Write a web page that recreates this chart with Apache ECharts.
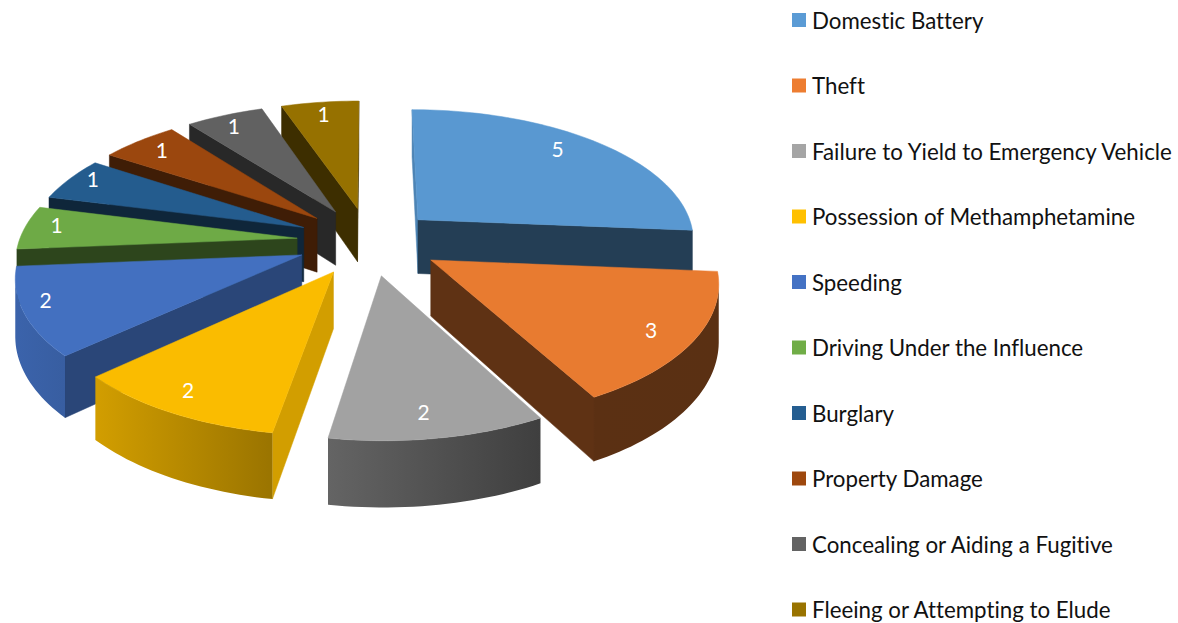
<!DOCTYPE html>
<html>
<head>
<meta charset="utf-8">
<title>Exploded 3D pie</title>
<script src="https://cdn.jsdelivr.net/npm/echarts@6/dist/echarts.min.js"></script>
<style>
  html, body { margin: 0; padding: 0; background: #fff; }
  #main { width: 1178px; height: 623px; }
  svg text { font-variant-ligatures: none; }
</style>
</head>
<body>
<div id="main"></div>
<script>
var categories = [
  'Domestic Battery',
  'Theft',
  'Failure to Yield to Emergency Vehicle',
  'Possession of Methamphetamine',
  'Speeding',
  'Driving Under the Influence',
  'Burglary',
  'Property Damage',
  'Concealing or Aiding a Fugitive',
  'Fleeing or Attempting to Elude'
]
var counts = [5, 3, 2, 2, 2, 1, 1, 1, 1, 1]
var palette = ['#5b9bd5', '#ed7d31', '#a5a5a5', '#ffc000', '#4472c4', '#70ad47', '#255e91', '#9e480e', '#636363', '#997300']

// projection of the pie: ground plane + perspective + slice thickness
var view = { cx: 369, cy: 241, rx: 278, ry: 131, persp: 0.14, depth: 55, labelAt: 0.86 }
// how far each slice is pulled out, and small label corrections in px
var explodeBy = [0.245, 0.26, 0.26, 0.26, 0.26, 0.26, 0.26, 0.26, 0.26, 0.26]
var labelShift = [[-16, -4], [-3, 1], [-6, -1], [-9, -1], [-19, -4], [-6, -5], [-8, -7], [0, -2], [-5, -2], [-1, -2]]

var total = counts.reduce(function (a, b) { return a + b }, 0)
var slices = []
var acc = 0
counts.forEach(function (v) {
  var start = acc / total * Math.PI * 2
  acc += v
  slices.push({ start: start, end: acc / total * Math.PI * 2 })
})

// x right, y toward the viewer, z 0 top / 1 bottom
function project (x, y, z) {
  var p = 1 / (1 - view.persp * y)
  return [view.cx + x * view.rx * p, view.cy + y * view.ry * p + z * view.depth * p]
}

function shadeColor (hex, k) {
  var n = parseInt(hex.slice(1), 16)
  var r = Math.round((n >> 16 & 255) * k)
  var g = Math.round((n >> 8 & 255) * k)
  var b = Math.round((n & 255) * k)
  return 'rgb(' + r + ',' + g + ',' + b + ')'
}

function clamp (v, a, b) { return Math.max(a, Math.min(b, v)) }

function radialShade (normalDeg) {
  return clamp(0.4 + (175 - normalDeg) * 0.0056, 0.4, 0.85)
}

function arcShade (deg) {
  return clamp(0.38 + (deg - 151) * 0.0058, 0.38, 0.87)
}

function signedArea (pts) {
  var s = 0
  for (var i = 0; i < pts.length; i++) {
    var a = pts[i]
    var b = pts[(i + 1) % pts.length]
    s += a[0] * b[1] - b[0] * a[1]
  }
  return s / 2
}

function polygon (pts, fill, z2) {
  return {
    type: 'polygon',
    shape: { points: pts },
    z2: z2,
    style: { fill: fill, stroke: fill, lineWidth: 0.5 }
  }
}

function sliceRenderer (idx) {
  return function () {
    var s = slices[idx]
    var color = palette[idx]
    var mid = (s.start + s.end) / 2
    var ox = Math.sin(mid) * explodeBy[idx]
    var oy = -Math.cos(mid) * explodeBy[idx]
    var children = []

    function pt (a, r, z) {
      return project(ox + Math.sin(a) * r, oy - Math.cos(a) * r, z)
    }

    // rim samples
    var steps = Math.max(6, Math.round((s.end - s.start) * 40))
    var rim = []
    for (var i = 0; i <= steps; i++) rim.push(s.start + (s.end - s.start) * i / steps)

    // flat cut faces, skipped when turned away from the camera
    var startQuad = [pt(0, 0, 0), pt(s.start, 1, 0), pt(s.start, 1, 1), pt(0, 0, 1)]
    if (signedArea(startQuad) < 0) {
      children.push(polygon(startQuad, shadeColor(color, radialShade(s.start * 180 / Math.PI - 90)), 1))
    }
    var endQuad = [pt(0, 0, 0), pt(0, 0, 1), pt(s.end, 1, 1), pt(s.end, 1, 0)]
    if (signedArea(endQuad) < 0) {
      children.push(polygon(endQuad, shadeColor(color, radialShade(s.end * 180 / Math.PI + 90)), 1))
    }

    // outer wall: keep the part of the rim that faces the camera
    var vis = []
    for (var j = 0; j < rim.length - 1; j++) {
      var q = [pt(rim[j], 1, 0), pt(rim[j + 1], 1, 0), pt(rim[j + 1], 1, 1), pt(rim[j], 1, 1)]
      if (signedArea(q) < 0) {
        if (!vis.length) vis.push(rim[j])
        vis.push(rim[j + 1])
      }
    }
    if (vis.length > 1) {
      var wall = []
      vis.forEach(function (a) { wall.push(pt(a, 1, 0)) })
      vis.slice().reverse().forEach(function (a) { wall.push(pt(a, 1, 1)) })
      var a0 = vis[0]
      var a1 = vis[vis.length - 1]
      var c0 = shadeColor(color, arcShade(a0 * 180 / Math.PI))
      var c1 = shadeColor(color, arcShade(a1 * 180 / Math.PI))
      // gradient runs left to right, the rim runs right to left at the front
      var leftFirst = pt(a0, 1, 0)[0] < pt(a1, 1, 0)[0]
      var grad = new echarts.graphic.LinearGradient(0, 0, 1, 0, [
        { offset: 0, color: leftFirst ? c0 : c1 },
        { offset: 1, color: leftFirst ? c1 : c0 }
      ])
      children.push({
        type: 'polygon',
        shape: { points: wall },
        z2: 2,
        style: { fill: grad }
      })
    }

    // top face
    var top = [pt(0, 0, 0)]
    rim.forEach(function (a) { top.push(pt(a, 1, 0)) })
    children.push(polygon(top, shadeColor(color, 0.98), 3))

    // data label
    var lp = pt(mid, view.labelAt, 0)
    children.push({
      type: 'text',
      z2: 4,
      style: {
        x: lp[0] + labelShift[idx][0],
        y: lp[1] + labelShift[idx][1],
        text: String(counts[idx]),
        fill: '#fff',
        fontFamily: 'Lato',
        fontSize: 21,
        align: 'center',
        verticalAlign: 'middle'
      }
    })

    return { type: 'group', children: children }
  }
}

// back slices first, front slices on top
var ranked = slices.map(function (s, i) {
  return { i: i, y: -Math.cos((s.start + s.end) / 2) }
}).sort(function (a, b) { return a.y - b.y })
var rank = []
ranked.forEach(function (r, k) { rank[r.i] = k })

var series = categories.map(function (name, i) {
  return {
    name: name,
    type: 'custom',
    coordinateSystem: 'none',
    z: 2 + rank[i],
    silent: true,
    animation: false,
    itemStyle: { color: palette[i] },
    data: [counts[i]],
    renderItem: sliceRenderer(i)
  }
})

var chart = echarts.init(document.getElementById('main'), null, { renderer: 'svg' })
chart.setOption({
  animation: false,
  color: palette,
  backgroundColor: '#fff',
  legend: {
    orient: 'vertical',
    left: 792,
    top: 9,
    padding: 0,
    icon: 'rect',
    itemWidth: 14,
    itemHeight: 14,
    itemGap: 43.5,
    selectedMode: false,
    textStyle: {
      fontFamily: 'Lato',
      fontSize: 22.3,
      color: '#111',
      padding: [0, 0, 0, 1]
    },
    data: categories
  },
  series: series
})
</script>
</body>
</html>
